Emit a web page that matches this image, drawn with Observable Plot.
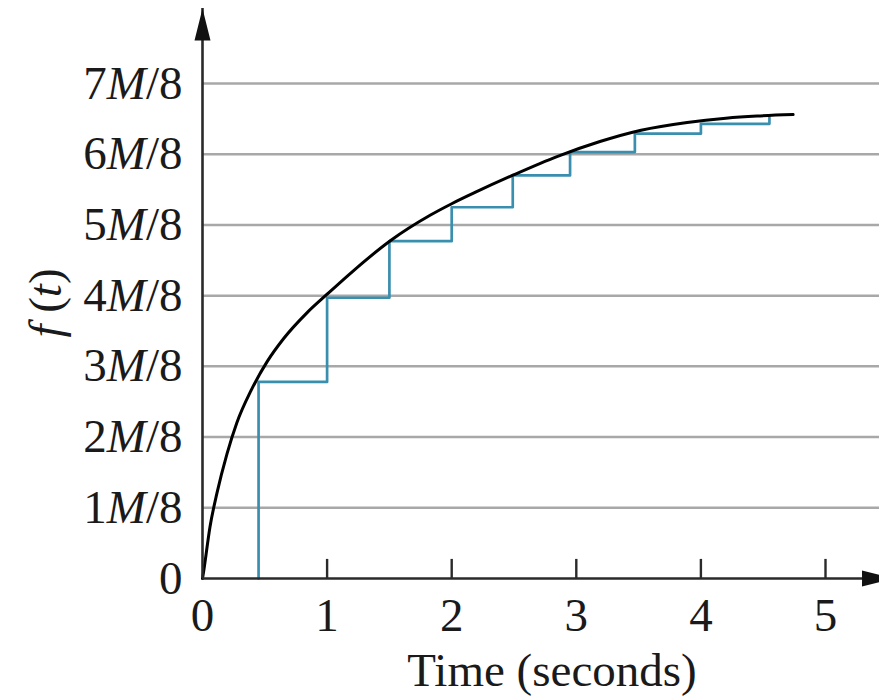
<!DOCTYPE html>
<html>
<head>
<meta charset="utf-8">
<script src="https://cdn.jsdelivr.net/npm/d3@7"></script>
<script src="https://cdn.jsdelivr.net/npm/@observablehq/plot@0.6"></script>
<style>
  html, body { margin: 0; padding: 0; background: white; overflow: hidden; }
  #chart svg { display: block; }
</style>
</head>
<body>
<div id="chart"></div>
<script>
// ---- data ----
const yTicks = [0, 1, 2, 3, 4, 5, 6, 7];
const yTickLabels = ["0", "1M/8", "2M/8", "3M/8", "4M/8", "5M/8", "6M/8", "7M/8"];
const xTicks = [0, 1, 2, 3, 4, 5];
const xLabel = "Time (seconds)";
const yLabel = "f (t)";

// smooth curve f(t), values in units of M/8
const curveT = [0, 0.01, 0.06, 0.115, 0.196, 0.275, 0.39, 0.52, 0.65, 0.84, 1.0, 1.19, 1.51, 1.83, 2.0, 2.2, 2.5, 2.85, 3.19, 3.52, 3.89, 4.2, 4.45, 4.74];
const curveV = [0, 0.11, 0.73, 1.20, 1.76, 2.20, 2.66, 3.07, 3.39, 3.76, 4.02, 4.32, 4.78, 5.14, 5.30, 5.47, 5.71, 5.97, 6.18, 6.34, 6.45, 6.51, 6.54, 6.56];

// step approximation (blue)
const stepT = [0.45, 0.45, 1.0, 1.5, 2.0, 2.49, 2.95, 3.47, 4.0, 4.55];
const stepV = [0, 2.78, 3.97, 4.77, 5.25, 5.70, 6.03, 6.29, 6.43, 6.52];

// axis extents (data units)
const yAxisEnd = 8.06;
const xAxisEnd = 5.55;
const gridEnd = 5.45;
const tickLen = 0.27;

const curveData = curveT.map((t, i) => ({t, v: curveV[i]}));
const stepData = stepT.map((t, i) => ({t, v: stepV[i]}));

const arrowHead = {
  draw(ctx) {
    ctx.moveTo(0, 0);
    ctx.lineTo(8, 32);
    ctx.lineTo(-8, 32);
    ctx.closePath();
  }
};

const ink = "#1a1a1a";
const blue = "#3b8fae";

const svg = Plot.plot({
  width: 879,
  height: 699,
  marginLeft: 202,
  marginRight: 54,
  marginTop: 83,
  marginBottom: 121,
  x: {domain: [0, 5]},
  y: {domain: [0, 7]},
  style: {
    fontFamily: "'Liberation Serif', 'Times New Roman', serif",
    fontSize: "47px",
    color: ink,
    background: "white",
    overflow: "visible"
  },
  marks: [
    Plot.ruleY(yTicks.filter(d => d > 0), {x1: 0, x2: gridEnd, stroke: "#a8a8a8", strokeWidth: 2.5}),
    Plot.line(stepData, {x: "t", y: "v", curve: "step-after", stroke: blue, strokeWidth: 2.7}),
    Plot.line(curveData, {x: "t", y: "v", curve: "monotone-x", stroke: "#000", strokeWidth: 3}),
    Plot.ruleX([0], {y1: 0, y2: yAxisEnd, stroke: "#2a2a2a", strokeWidth: 2.6}),
    Plot.ruleY([0], {x1: 0, x2: xAxisEnd, stroke: "#2a2a2a", strokeWidth: 2.6}),
    Plot.ruleX(xTicks.filter(d => d > 0), {y1: 0, y2: tickLen, stroke: "#2a2a2a", strokeWidth: 2.4}),
    Plot.dot([{x: 0, y: yAxisEnd}], {x: "x", y: "y", symbol: arrowHead, fill: "#111", stroke: "none"}),
    Plot.dot([{x: xAxisEnd, y: 0}], {x: "x", y: "y", symbol: arrowHead, fill: "#111", stroke: "none", rotate: 90}),
    Plot.axisY(yTicks, {tickSize: 0, tickPadding: 20, label: null, tickFormat: d => yTickLabels[yTicks.indexOf(d)]}),
    Plot.axisX(xTicks, {tickSize: 0, tickPadding: 19, label: null, tickFormat: d => String(d)}),
    Plot.text([yLabel], {text: d => d, frameAnchor: "left", textAnchor: "middle", lineAnchor: "middle", dx: -157, dy: -28, rotate: -90, fill: ink}),
    Plot.text([xLabel], {text: d => d, frameAnchor: "bottom", textAnchor: "middle", lineAnchor: "middle", dx: 38, dy: 92, fill: ink})
  ]
});

// italic M in tick labels, italic f and t in the y label
d3.select(svg).selectAll("text").each(function () {
  const el = d3.select(this);
  const s = this.textContent;
  const m = /^(\d)M\/8$/.exec(s);
  if (m) {
    el.text(null);
    el.append("tspan").text(m[1]);
    el.append("tspan").attr("font-style", "italic").text("M");
    el.append("tspan").text("/8");
  } else if (s === yLabel) {
    el.text(null);
    el.append("tspan").attr("font-style", "italic").text("f");
    el.append("tspan").text(" (");
    el.append("tspan").attr("font-style", "italic").text("t");
    el.append("tspan").text(")");
  }
});

document.getElementById("chart").appendChild(svg);
</script>
</body>
</html>
